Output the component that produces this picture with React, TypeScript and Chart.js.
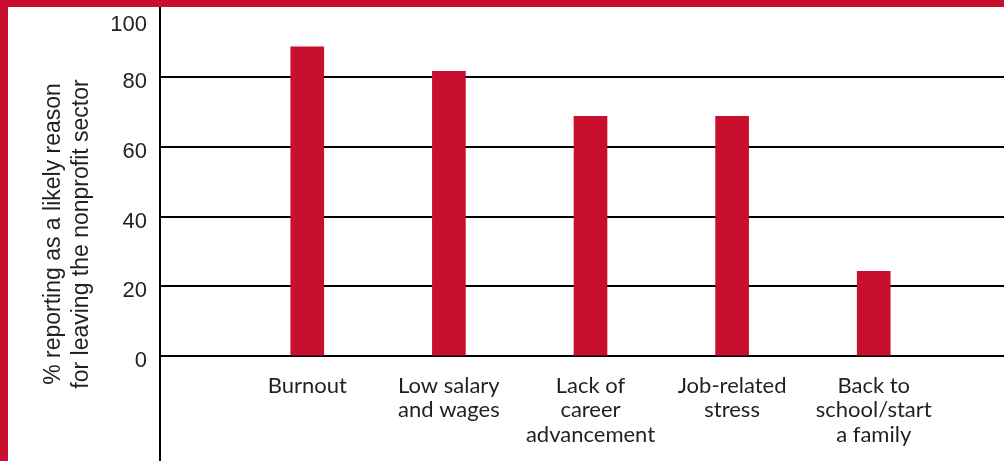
import React, { useEffect, useRef } from "react";
import { Chart, registerables } from "chart.js";

Chart.register(...registerables);

const categories: string[][] = [
  ["Burnout"],
  ["Low salary", "and wages"],
  ["Lack of", "career", "advancement"],
  ["Job-related", "stress"],
  ["Back to", "school/start", "a family"],
];
const values: number[] = [88.6, 81.6, 68.7, 68.7, 24.3];
const yTicks: number[] = [0, 20, 40, 60, 80, 100];
const yTitle: string[] = ["% reporting as a likely reason", "for leaving the nonprofit sector"];

const RED = "#C8102E";
const INK = "#231F20";
const PAD = 50;

export default function App() {
  const ref = useRef<HTMLCanvasElement | null>(null);

  useEffect(() => {
    if (!ref.current) return;
    const chart = new Chart(ref.current, {
      type: "bar",
      data: {
        datasets: [
          {
            data: values.map((v, i) => ({ x: i, y: v })),
            backgroundColor: RED,
            borderWidth: 0,
            barThickness: 33,
          },
        ],
      },
      options: {
        animation: false,
        responsive: false,
        devicePixelRatio: 1,
        layout: { padding: { top: PAD, bottom: PAD, left: 0, right: 0 } },
        plugins: { legend: { display: false }, tooltip: { enabled: false } },
        scales: {
          x: {
            type: "linear",
            position: { y: 0 } as any,
            min: -1.04,
            max: 4.92,
            offset: false,
            afterBuildTicks: (scale: any) => {
              scale.ticks = categories.map((_, i) => ({ value: i }));
            },
            grid: { display: false, drawTicks: false },
            border: { display: false },
            ticks: {
              autoSkip: false,
              maxRotation: 0,
              minRotation: 0,
              padding: 17,
              color: INK,
              font: { family: "Lato", size: 22, lineHeight: 1.12 },
              callback: (v: any) => categories[v as number] ?? "",
            },
          },
          y: {
            min: -30,
            max: 100,
            afterBuildTicks: (scale: any) => {
              scale.ticks = yTicks.map((v) => ({ value: v }));
            },
            afterFit: (scale: any) => {
              scale.width = 160;
            },
            grid: {
              drawTicks: false,
              lineWidth: 2,
              color: (ctx: any) => (ctx.tick && ctx.tick.value >= 0 && ctx.tick.value < 100 ? "#000000" : "rgba(0,0,0,0)"),
            },
            border: { display: true, color: "#000000", width: 2 },
            ticks: {
              padding: 13,
              labelOffset: 5,
              color: INK,
              font: { family: "Liberation Sans", size: 22 },
              callback: (v: any) => (v === 100 ? ["", String(v)] : String(v)),
            },
            title: {
              display: true,
              text: yTitle,
              color: INK,
              padding: { top: 40, bottom: 0 },
              font: { family: "Liberation Sans", size: 23, lineHeight: 1.2 },
            },
          },
        },
      },
    });
    return () => chart.destroy();
  }, []);

  return (
    <div style={{ position: "fixed", left: 0, top: 0, width: 1004, height: 461, overflow: "hidden", background: "#ffffff" }}>
      <canvas
        ref={ref}
        width={1004}
        height={461 + 2 * PAD - 7}
        style={{ position: "absolute", left: 0, top: 7 - PAD, width: 1004, height: 461 + 2 * PAD - 7 }}
      />
      <div style={{ position: "absolute", left: 0, top: 0, width: 1004, height: 7, background: RED }} />
      <div style={{ position: "absolute", left: 0, top: 0, width: 8, height: 461, background: RED }} />
    </div>
  );
}
